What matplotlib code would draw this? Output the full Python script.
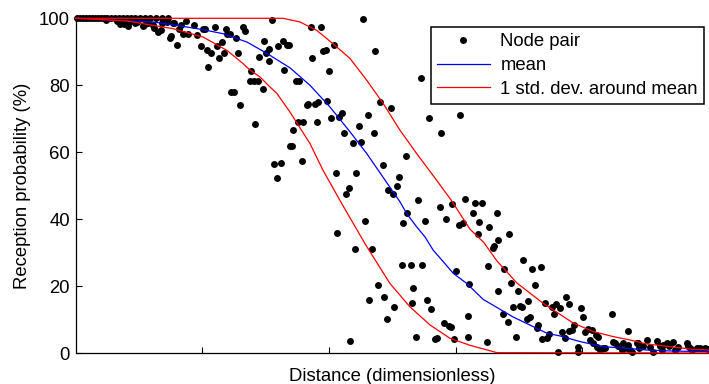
import matplotlib
matplotlib.use("Agg")
import matplotlib.pyplot as plt

plt.rcParams['font.family'] = ['Liberation Sans', 'DejaVu Sans']

# ---- scatter data: node pairs (distance, reception %) ----
node_x = [0.011, 0.035, 0.058, 0.082, 0.106, 0.129, 0.153, 0.177, 0.200, 0.224, 0.248, 0.279,
          0.311, 0.343, 0.374, 0.406, 0.437, 0.469, 0.508, 0.548, 0.587, 0.635, 0.682, 0.729,
          0.238, 0.324, 0.350, 0.382, 0.414, 0.421, 0.469, 0.487, 0.500, 0.532, 0.540, 0.571,
          0.611, 0.619, 0.650, 0.672, 0.682, 0.721, 0.745, 0.751, 0.769, 0.777, 0.800, 0.816,
          0.830, 0.848, 0.872, 0.888, 0.935, 0.958, 0.990, 1.006, 1.021, 1.037, 1.069, 1.045,
          1.101, 1.117, 1.133, 1.156, 1.172, 1.188, 1.196, 1.219, 1.266, 1.282, 1.322, 1.337,
          1.384, 1.376, 1.408, 1.440, 1.479, 1.448, 1.487, 1.503, 1.527, 1.530, 1.550, 1.598,
          1.637, 1.669, 1.645, 1.227, 1.250, 1.298, 1.416, 1.566, 1.621, 1.590, 1.692, 1.684,
          1.856, 1.934, 2.271, 2.363, 2.039, 1.950, 1.976, 1.868, 2.002, 1.737, 1.763, 1.824,
          1.837, 1.889, 1.916, 1.982, 1.753, 1.797, 1.903, 2.016, 2.081, 2.100, 1.718, 1.706,
          1.785, 2.121, 2.239, 2.305, 2.355, 2.192, 2.250, 2.403, 2.492, 2.424, 2.605, 2.553,
          2.053, 2.213, 2.724, 2.792, 2.884, 3.034,
          2.534, 2.468, 2.503, 2.158, 2.134, 2.700, 3.073, 2.968, 2.876, 2.618, 2.284, 2.586,
          2.758, 2.923, 3.026, 3.055, 2.063, 2.203, 2.342, 2.574, 2.645, 2.736, 3.002, 3.107,
          2.387, 2.665, 2.318, 2.434, 2.653, 2.771, 2.805, 2.515, 2.455, 3.095, 2.910, 2.949,
          2.961, 2.689, 2.837, 2.850, 2.989, 3.099, 2.166,
          3.152, 3.210, 3.139, 3.186, 3.324, 3.265, 3.174, 3.418, 3.334, 3.302, 3.292, 3.257,
          3.534, 3.605, 3.673, 3.381, 3.626, 3.436, 3.336, 3.489, 3.568, 3.455, 3.508, 3.526,
          3.705, 3.758, 3.792, 3.823, 3.871, 3.894, 3.776, 3.987, 4.007, 3.371, 3.410, 3.586,
          3.560, 3.652, 3.639, 3.476, 3.245, 3.683, 3.718, 3.739, 3.837, 3.863, 3.897, 3.916,
          3.936, 4.021, 4.047, 4.078, 4.105, 4.060, 4.086, 4.126, 3.968, 3.963, 3.810, 4.160,
          4.178, 4.231, 4.239, 4.257, 4.283, 4.323, 4.310, 4.358, 4.376, 4.389, 4.429, 4.441,
          4.481, 4.507, 4.534, 4.560, 4.586, 4.612, 4.626, 4.665, 4.686, 4.731, 4.757, 4.823,
          4.836, 4.863, 4.902, 4.928, 4.968, 4.991, 4.449, 4.350, 4.113, 4.139, 4.362, 4.638,
          4.717, 4.849]
node_y = [100, 100, 100, 100, 100, 100, 100, 100, 100, 100, 100, 100,
          100, 100, 100, 100, 100, 100, 100, 100, 100, 100, 100, 100,
          99.4, 99.2, 98.4, 98.2, 97.7, 98.9, 98.6, 98.9, 99.9, 97.7, 97.9, 98.6,
          97.9, 97.2, 95.9, 96.4, 98.7, 98.9, 94.2, 94.6, 98.7, 98.5, 92.0, 96.9,
          97.9, 95.2, 99.1, 95.2, 98.1, 95.1, 91.6, 96.7, 96.7, 90.6, 89.7, 85.5,
          97.4, 91.6, 88.1, 92.9, 89.7, 96.7, 95.4, 95.4, 94.2, 89.7, 97.4, 96.1,
          84.2, 81.2, 81.3, 81.2, 79.0, 88.4, 93.2, 89.7, 90.7, 87.2, 99.4, 91.6,
          93.2, 92.1, 84.7, 78.0, 78.0, 74.0, 68.4, 56.6, 56.9, 52.3, 61.9, 91.9,
          97.4, 97.4, 99.9, 90.2, 92.1, 90.2, 90.6, 88.1, 84.2, 81.2, 81.2, 74.0,
          74.5, 74.5, 75.0, 75.3, 68.9, 68.9, 68.9, 70.2, 70.5, 71.8, 66.6, 61.8,
          57.4, 65.8, 67.9, 71.0, 65.8, 62.8, 63.1, 75.0, 73.2, 56.1, 58.8, 52.6,
          53.9, 53.9, 82.3, 70.1, 65.8, 71.0,
          49.9, 48.7, 47.5, 49.2, 47.4, 45.7, 46.0, 44.4, 43.5, 41.7, 39.5, 38.7,
          39.5, 39.9, 38.2, 38.7, 36.0, 31.1, 31.1, 26.4, 26.4, 26.4, 24.6, 20.6,
          20.2, 19.3, 15.8, 16.7, 14.9, 15.8, 13.2, 13.6, 10.1, 11.0, 8.9, 8.1,
          7.7, 4.9, 4.1, 4.4, 4.1, 4.9, 3.6,
          44.7, 44.7, 41.7, 39.0, 41.7, 37.7, 35.7, 35.7, 33.7, 32.0, 31.3, 26.0,
          27.8, 25.1, 25.6, 25.1, 20.3, 20.8, 18.6, 18.6, 15.5, 13.6, 14.0, 13.6,
          15.0, 13.6, 14.6, 13.3, 16.8, 14.6, 11.6, 13.3, 10.7, 11.8, 9.3, 10.8,
          10.1, 8.4, 7.4, 4.9, 3.2, 4.1, 4.4, 5.6, 6.2, 4.6, 6.6, 6.9,
          8.4, 6.4, 7.1, 6.9, 5.4, 3.9, 3.1, 4.9, 1.9, 0.2, 0.2, 1.4,
          1.6, 11.6, 3.4, 2.9, 2.2, 2.9, 0.9, 6.6, 0.9, 0.4, 2.9, 3.1,
          2.1, 3.9, 1.9, 0.4, 3.6, 2.1, 0.9, 2.9, 2.2, 0.9, 1.9, 2.9,
          2.2, 0.9, 1.6, 1.4, 1.4, 1.2, 1.4, 1.6, 1.9, 0.9, 2.4, 2.4,
          3.4, 1.4]

# ---- mean curve ----
mean_x = [0.0, 0.429, 0.611, 0.800, 1.006, 1.164, 1.353, 1.511, 1.692, 1.850, 2.008, 2.166,
          2.298, 2.429, 2.560, 2.613, 2.692, 2.758, 2.823, 2.902, 2.981, 3.087, 3.218, 3.452,
          3.721, 3.823, 3.983, 4.165, 4.350, 4.507, 4.691, 5.0]
mean_y = [100, 99.2, 98.9, 97.9, 96.6, 95.4, 92.9, 89.5, 85.2, 80.0, 73.5, 66.1,
          59.6, 52.4, 45.2, 41.7, 37.7, 34.7, 30.7, 27.3, 23.8, 20.8, 16.0, 10.8,
          5.9, 5.1, 3.4, 1.9, 1.4, 0.9, 0.6, 0.4]

# ---- mean - 1 std ----
low_x = [0.0, 0.406, 0.611, 0.769, 1.006, 1.195, 1.321, 1.377, 1.455, 1.534, 1.590, 1.692,
         1.850, 1.953, 2.100, 2.284, 2.350, 2.481, 2.639, 2.797, 2.955, 3.113, 3.326, 5.0]
low_y = [100, 99.2, 97.9, 96.9, 94.4, 90.4, 86.5, 84.5, 82.5, 79.5, 77.5, 72.0,
         62.6, 54.6, 44.7, 32.7, 28.7, 20.8, 13.8, 8.4, 4.4, 2.3, 0.1, 0.0]

# ---- mean + 1 std ----
up_x = [0.0, 1.637, 1.771, 1.903, 2.032, 2.166, 2.298, 2.429, 2.560, 2.692, 2.850, 2.968,
        3.113, 3.223, 3.326, 3.484, 3.689, 3.926, 4.086, 4.244, 4.376, 4.507, 4.691, 4.875, 5.0]
up_y = [100, 100, 98.9, 96.4, 92.4, 88.0, 81.5, 74.5, 66.6, 59.6, 51.6, 45.5,
        37.0, 33.0, 27.5, 20.9, 14.9, 9.0, 6.4, 4.9, 3.9, 2.7, 1.9, 1.1, 0.9]

y_ticks = [0, 20, 40, 60, 80, 100]
x_ticks = [1, 2, 3, 4]

FS = 13.3

fig = plt.figure(figsize=(7.09, 3.84), dpi=100)
ax = fig.add_axes([75.6 / 709, 31 / 384, 633.4 / 709, 334.7 / 384])

ax.plot(node_x, node_y, linestyle='none', marker='o', ms=5.0, mew=0,
        color='black', clip_on=False, zorder=3, label='Node pair')
ax.plot(mean_x, mean_y, color='blue', lw=0.9, clip_on=False, zorder=4, label='mean')
ax.plot(up_x, up_y, color='red', lw=0.9, clip_on=False, zorder=4,
        label='1 std. dev. around mean')
ax.plot(low_x, low_y, color='red', lw=0.9, clip_on=False, zorder=4)

ax.set_xlim(0, 5)
ax.set_ylim(0, 100)
ax.set_yticks(y_ticks)
ax.set_xticks(x_ticks)
ax.set_xticklabels([])
ax.tick_params(direction='in', length=4, width=0.8, labelsize=FS, pad=4)
for s in ['top', 'right']:
    ax.spines[s].set_visible(False)
for s in ['left', 'bottom']:
    ax.spines[s].set_linewidth(0.9)

ax.set_ylabel('Reception probability (%)', fontsize=FS, labelpad=6)
ax.set_xlabel('Distance (dimensionless)', fontsize=FS, labelpad=6.5)

leg = ax.legend(loc='upper right', bbox_to_anchor=(0.992, 0.973), borderaxespad=0,
                fontsize=FS, numpoints=1, handlelength=2.9, handletextpad=0.55,
                labelspacing=0.36, borderpad=0.33, fancybox=False, framealpha=1,
                edgecolor='black')
leg.get_frame().set_linewidth(1.1)
leg.legend_handles[0].set_markersize(5.0)

fig.savefig('out.png', dpi=100)
